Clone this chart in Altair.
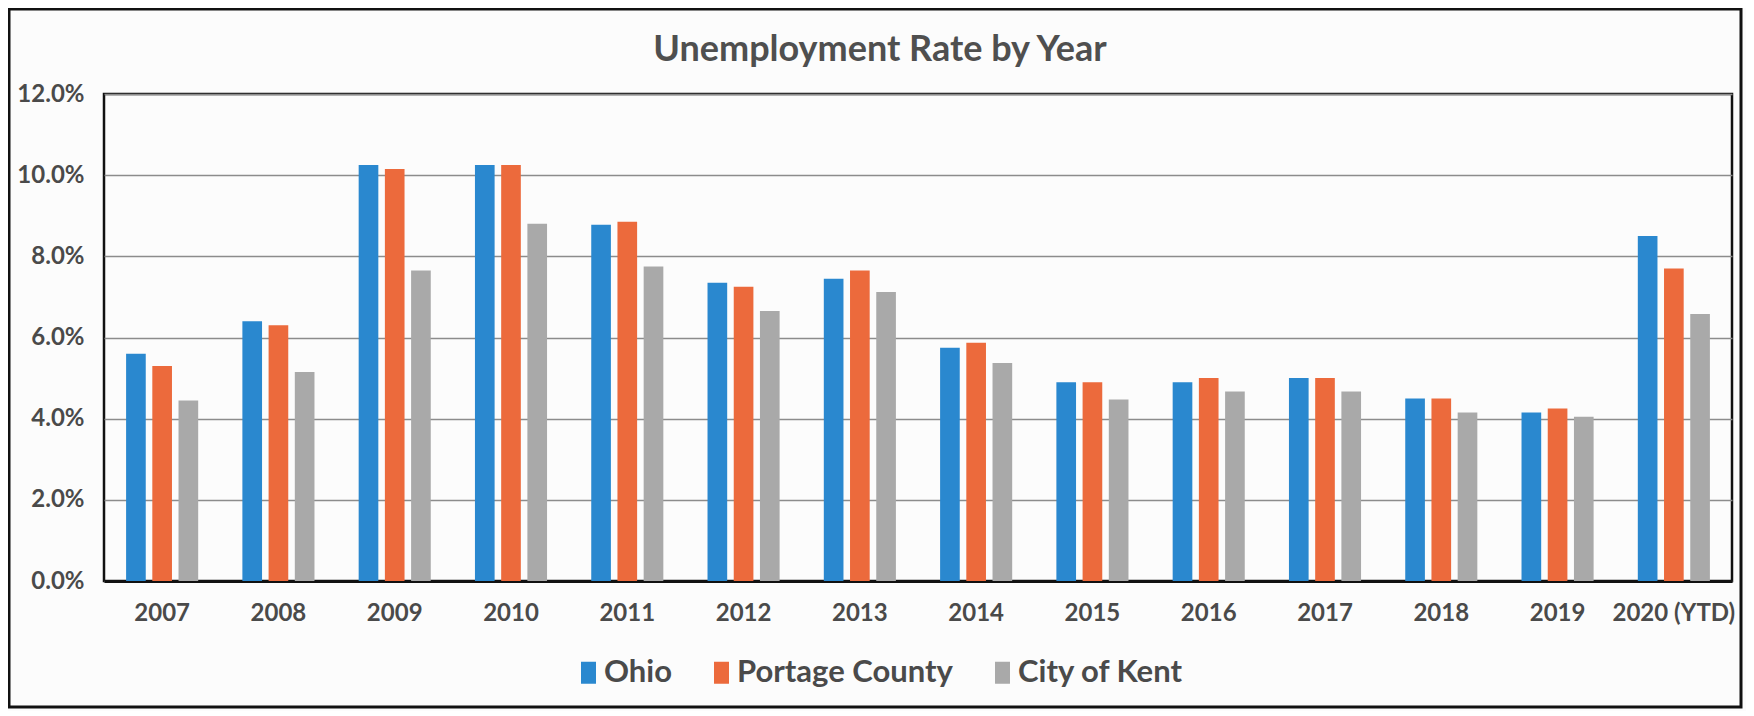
import altair as alt
import pandas as pd

years = ["2007", "2008", "2009", "2010", "2011", "2012", "2013",
         "2014", "2015", "2016", "2017", "2018", "2019", "2020 (YTD)"]
series = ["Ohio", "Portage County", "City of Kent"]
ohio = [5.6, 6.4, 10.25, 10.25, 8.78, 7.35, 7.45, 5.75, 4.9, 4.9, 5.0, 4.5, 4.15, 8.5]
portage = [5.3, 6.3, 10.15, 10.25, 8.85, 7.25, 7.65, 5.87, 4.9, 5.0, 5.0, 4.5, 4.25, 7.7]
kent = [4.45, 5.15, 7.65, 8.8, 7.75, 6.65, 7.12, 5.37, 4.47, 4.67, 4.67, 4.15, 4.05, 6.58]
colors = ["#2A88CF", "#EC6A3C", "#A9A9A9"]
y_ticks = [0, 2, 4, 6, 8, 10, 12]
title_text = "Unemployment Rate by Year"

rows = []
for name, vals in zip(series, [ohio, portage, kent]):
    for yr, v in zip(years, vals):
        rows.append({"Year": yr, "Series": name, "Rate": v})
df = pd.DataFrame(rows)

W, H = 1628, 487
FONT = "Lato"
TXT = "#4a4a4a"

bars = alt.Chart(df).mark_bar().encode(
    x=alt.X("Year:N", sort=years,
            scale=alt.Scale(paddingInner=0.38, paddingOuter=0.19),
            axis=alt.Axis(title=None, labelAngle=0, ticks=False,
                          labelFont=FONT, labelFontSize=24, labelFontWeight="bold",
                          labelColor=TXT, labelPadding=20,
                          domainColor="#111111", domainWidth=3)),
    xOffset=alt.XOffset("Series:N", sort=series,
                        scale=alt.Scale(paddingInner=0.25, paddingOuter=0)),
    y=alt.Y("Rate:Q", scale=alt.Scale(domain=[0, 12], nice=False),
            axis=alt.Axis(title=None, values=y_ticks, ticks=False, domain=False,
                          labelExpr="format(datum.value, '.1f') + '%'",
                          labelFont=FONT, labelFontSize=24, labelFontWeight="bold",
                          labelColor=TXT, labelPadding=20,
                          gridColor="#8c8c8c", gridWidth=1.5)),
    color=alt.Color("Series:N", sort=series,
                    scale=alt.Scale(domain=series, range=colors),
                    legend=alt.Legend(title=None, orient="none", direction="horizontal",
                                      legendX=469, legendY=563,
                                      labelFont=FONT, labelFontSize=31,
                                      labelFontWeight="bold", labelColor=TXT,
                                      labelLimit=500,
                                      symbolType="M-0.68,-1H0.68V1H-0.68Z",
                                      symbolSize=484, symbolStrokeWidth=0,
                                      symbolOpacity=1, labelOffset=0,
                                      columnPadding=34)),
)

frame = alt.Chart(pd.DataFrame({"a": [0]})).mark_rect(
    filled=False, stroke="#111111", strokeWidth=3
).encode(
    x=alt.value(-95), x2=alt.value(W + 9),
    y=alt.value(-85), y2=alt.value(H + 126),
)

title = alt.Chart(pd.DataFrame({"t": [title_text]})).mark_text(
    font=FONT, fontSize=36, fontWeight="bold", color="#4f4f4f",
    align="center", baseline="middle"
).encode(
    text="t:N",
    x=alt.value(W / 2 - 38), y=alt.value(-44),
)

chart = alt.layer(bars, frame, title).properties(
    width=W, height=H,
    padding={"left": 96, "top": 86, "right": 14, "bottom": 130},
    autosize=alt.AutoSizeParams(type="none"),
    background="#fcfcfc",
).configure_view(stroke="#111111", strokeWidth=2.5)

chart.save("out.html", embed_options={"renderer": "svg", "actions": False})
